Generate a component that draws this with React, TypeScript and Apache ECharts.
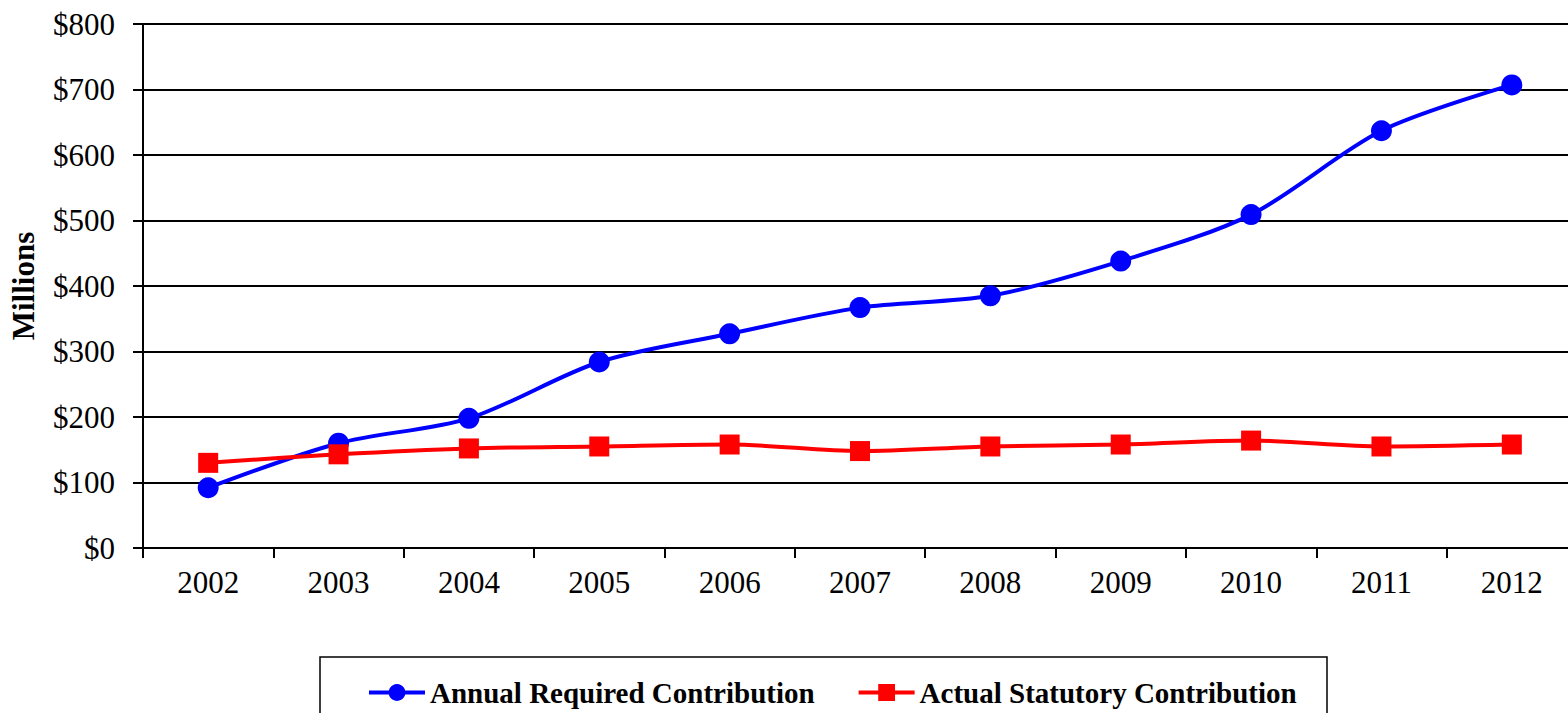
import React, { useEffect, useRef } from "react";
import * as echarts from "echarts";

const years = ["2002", "2003", "2004", "2005", "2006", "2007", "2008", "2009", "2010", "2011", "2012"];
const annualRequired = [92, 160, 198, 284, 327, 367, 385, 438, 509, 637, 707];
const actualStatutory = [130, 143, 152, 155, 158, 148, 155, 158, 164, 155, 158];
const yTicks = [0, 100, 200, 300, 400, 500, 600, 700, 800];

const FONT = '"Liberation Serif", "Times New Roman", serif';

export default function App() {
  const ref = useRef<HTMLDivElement>(null);
  useEffect(() => {
    if (!ref.current) return;
    const chart = echarts.init(ref.current, undefined, { renderer: "svg" });
    chart.setOption({
      animation: false,
      backgroundColor: "#ffffff",
      textStyle: { fontFamily: FONT },
      grid: { left: 141, right: 3, top: 24, bottom: 165, containLabel: false },
      xAxis: {
        type: "category",
        data: years,
        boundaryGap: true,
        axisLine: { lineStyle: { color: "#000", width: 2 } },
        axisTick: { show: true, length: 10, lineStyle: { color: "#000", width: 2 } },
        axisLabel: { color: "#000", fontSize: 31, fontFamily: FONT, margin: 19 },
        splitLine: { show: false },
      },
      yAxis: {
        type: "value",
        min: 0,
        max: yTicks[yTicks.length - 1],
        interval: 100,
        name: "Millions",
        nameLocation: "middle",
        nameGap: 104,
        nameRotate: 90,
        nameTextStyle: { color: "#000", fontSize: 31, fontWeight: "bold", fontFamily: FONT },
        axisLine: { show: true, lineStyle: { color: "#000", width: 2 } },
        axisTick: { show: true, length: 10, lineStyle: { color: "#000", width: 2 } },
        axisLabel: {
          color: "#000",
          fontSize: 31,
          fontFamily: FONT,
          margin: 28,
          formatter: (v: number) => "$" + v,
        },
        splitLine: { show: true, lineStyle: { color: "#000", width: 2 } },
      },
      legend: {
        left: 362,
        top: 673,
        itemWidth: 56,
        itemHeight: 21,
        itemGap: 42,
        lineStyle: { width: 4 },
        textStyle: { color: "#000", fontSize: 29, fontWeight: "bold", fontFamily: FONT },
        data: ["Annual Required Contribution", "Actual Statutory Contribution"],
      },
      graphic: [
        {
          type: "rect",
          shape: { x: 320, y: 657, width: 1007, height: 80 },
          style: { fill: "none", stroke: "#000", lineWidth: 1.5 },
          z: -1,
        },
      ],
      series: [
        {
          name: "Annual Required Contribution",
          type: "line",
          data: annualRequired,
          smooth: 0.3,
          symbol: "circle",
          symbolSize: 21,
          lineStyle: { color: "#0000FF", width: 4 },
          itemStyle: { color: "#0000FF" },
        },
        {
          name: "Actual Statutory Contribution",
          type: "line",
          data: actualStatutory,
          smooth: 0.3,
          symbol: "rect",
          symbolSize: 20,
          lineStyle: { color: "#FF0000", width: 4 },
          itemStyle: { color: "#FF0000" },
        },
      ],
    });
    return () => chart.dispose();
  }, []);
  return (
    <div
      style={{
        position: "fixed",
        left: 0,
        top: 0,
        width: 1568,
        height: 713,
        overflow: "hidden",
        background: "#fff",
      }}
    >
      <div ref={ref} style={{ width: 1580, height: 713 }} />
    </div>
  );
}
